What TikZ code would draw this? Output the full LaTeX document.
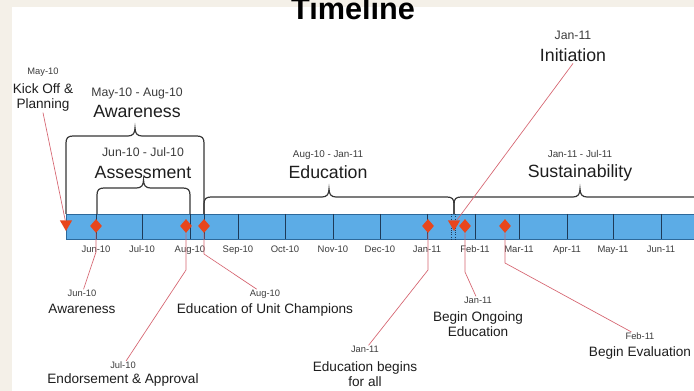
\documentclass[tikz,border=0pt]{standalone}
\usepackage{fontspec}
\setmainfont{Liberation Sans}
\usetikzlibrary{shapes.geometric}

\definecolor{pagebeige}{RGB}{244,240,232}
\definecolor{barblue}{RGB}{92,172,230}
\definecolor{baredge}{RGB}{45,105,155}
\definecolor{monthline}{RGB}{30,58,88}
\definecolor{markred}{RGB}{232,70,28}
\definecolor{linkred}{RGB}{214,100,112}
\definecolor{bracegray}{RGB}{55,55,55}
\definecolor{textdark}{RGB}{30,30,30}
\definecolor{textgray}{RGB}{60,60,60}

\newcommand{\phasebrace}[3]{%
  \draw[bracestyle] (#1,214) -- (#1,#3+7)
    .. controls (#1,#3+2) and (#1+2,#3) .. (#1+7,#3)
    -- ({(#1+#2)/2-7},#3)
    .. controls ({(#1+#2)/2-2},#3) and ({(#1+#2)/2},#3-3) .. ({(#1+#2)/2},#3-8)
    .. controls ({(#1+#2)/2},#3-3) and ({(#1+#2)/2+2},#3) .. ({(#1+#2)/2+7},#3)
    -- (#2-7,#3)
    .. controls (#2-2,#3) and (#2,#3+2) .. (#2,#3+7) -- (#2,214);}

\begin{document}
\begin{tikzpicture}[x=0.75pt,y=0.75pt,yscale=-1,xscale=1,
  every node/.style={inner sep=0.75pt},
  barstyle/.style={fill=barblue,draw=baredge,line width=0.5pt},
  monthdiv/.style={draw=monthline,line width=0.7pt},
  bracestyle/.style={draw=bracegray,line width=0.9pt},
  connector/.style={draw=linkred,line width=0.5pt},
  eventdiamond/.style={diamond,fill=markred,minimum width=9pt,minimum height=10.5pt,inner sep=0pt},
  eventtri/.style={regular polygon,regular polygon sides=3,shape border rotate=180,fill=markred,minimum size=10.5pt,inner sep=0pt},
  titletxt/.style={font=\fontsize{23}{27}\selectfont\bfseries,text=black,anchor=base},
  phasetxt/.style={font=\fontsize{13.3}{16}\selectfont,text=textdark,anchor=base},
  phasedate/.style={font=\fontsize{7.4}{9}\selectfont,text=textgray,anchor=base},
  bigdate/.style={font=\fontsize{9.2}{11}\selectfont,text=textgray,anchor=base},
  evtxt/.style={font=\fontsize{10.2}{11.6}\selectfont,text=textdark,align=center},
  evdate/.style={font=\fontsize{7}{9}\selectfont,text=textgray,anchor=base},
  monthtxt/.style={font=\fontsize{7.1}{9}\selectfont,text=textgray,anchor=base}]

\useasboundingbox (0,0) rectangle (694,391);
\clip (0,0) rectangle (694,391);
\fill[pagebeige] (0,0) rectangle (694,391);
\fill[white] (12,7) rectangle (694,391);

\draw[barstyle] (66,214) rectangle (720,239);
\foreach \x/\m in {96/Jun-10,142/Jul-10,190/Aug-10,238/Sep-10,285/Oct-10,333/Nov-10,380/Dec-10,427/Jan-11,475/Feb-11,519/Mar-11,567/Apr-11,613/May-11,661/Jun-11}{
  \draw[monthdiv] (\x,214) -- (\x,239);
  \node[monthtxt] (m\x) at (\x,253) {\m};
}
\draw[monthdiv] (204,214) -- (204,239);
\draw[monthdiv,densely dotted] (451,214) -- (451,239);
\draw[monthdiv,densely dotted] (455,214) -- (455,239);

\phasebrace{66}{204}{136}
\phasebrace{97}{190}{188}
\phasebrace{204}{454}{197}
\phasebrace{454}{706}{197}

\node[bigdate] (awpd) at (137,97) {May-10 - Aug-10};
\node[phasetxt] (awpl) at (137,118) {Awareness};
\node[bigdate] (aspd) at (143,157) {Jun-10 - Jul-10};
\node[phasetxt] (aspl) at (143,179) {Assessment};
\node[phasedate] (edpd) at (328,158) {Aug-10 - Jan-11};
\node[phasetxt] (edpl) at (328,179) {Education};
\node[phasedate] (supd) at (580,158) {Jan-11 - Jul-11};
\node[phasetxt] (supl) at (580,178) {Sustainability};

\node[eventtri] (kom) at (66,224) {};
\node[eventtri] (inm) at (454,224) {};
\node[eventdiamond] (awm) at (96,226) {};
\node[eventdiamond] (eam) at (186,226) {};
\node[eventdiamond] (ucm) at (204,226) {};
\node[eventdiamond] (efm) at (428,226) {};
\node[eventdiamond] (obm) at (465,226) {};
\node[eventdiamond] (evm) at (505,226) {};

\node[evdate] (kod) at (43,75) {May-10};
\node[evtxt,anchor=north] (kol) at (43,82) {Kick Off \&\\Planning};
\node[bigdate] (ind) at (573,40) {Jan-11};
\node[phasetxt] (inl) at (573,62) {Initiation};
\node[evdate] (awd) at (82,297) {Jun-10};
\node[evtxt,anchor=base] (awl) at (82,314) {Awareness};
\node[evdate] (ucd) at (265,297) {Aug-10};
\node[evtxt,anchor=base] (ucl) at (265,314) {Education of Unit Champions};
\node[evdate] (ead) at (123,369) {Jul-10};
\node[evtxt,anchor=base] (eal) at (123,384) {Endorsement \& Approval};
\node[evdate] (efd) at (365,353) {Jan-11};
\node[evtxt,anchor=north] (efl) at (365,360) {Education begins\\for all};
\node[evdate] (obd) at (478,304) {Jan-11};
\node[evtxt,anchor=north] (obl) at (478,310) {Begin Ongoing\\Education};
\node[evdate] (evd) at (640,340) {Feb-11};
\node[evtxt,anchor=base] (evl) at (640,357) {Begin Evaluation};

\coordinate (awb) at (96,252);
\coordinate (eab) at (186,270);
\coordinate (ucb) at (204,254);
\coordinate (efb) at (428,270);
\coordinate (obb) at (465,272);
\coordinate (evb) at (505,263);

\draw[connector] (kom) -- (kol.south);
\draw[connector] (inm) -- (inl.south);
\draw[connector] (awm) -- (awb) -- (awd);
\draw[connector] (eam) -- (eab) -- (ead);
\draw[connector] (ucm) -- (ucb) -- (ucd);
\draw[connector] (efm) -- (efb) -- (efd);
\draw[connector] (obm) -- (obb) -- (obd);
\draw[connector] (evm) -- (evb) -- (evd);

\node[titletxt] (title) at (353,20) {Timeline};
\end{tikzpicture}
\end{document}
